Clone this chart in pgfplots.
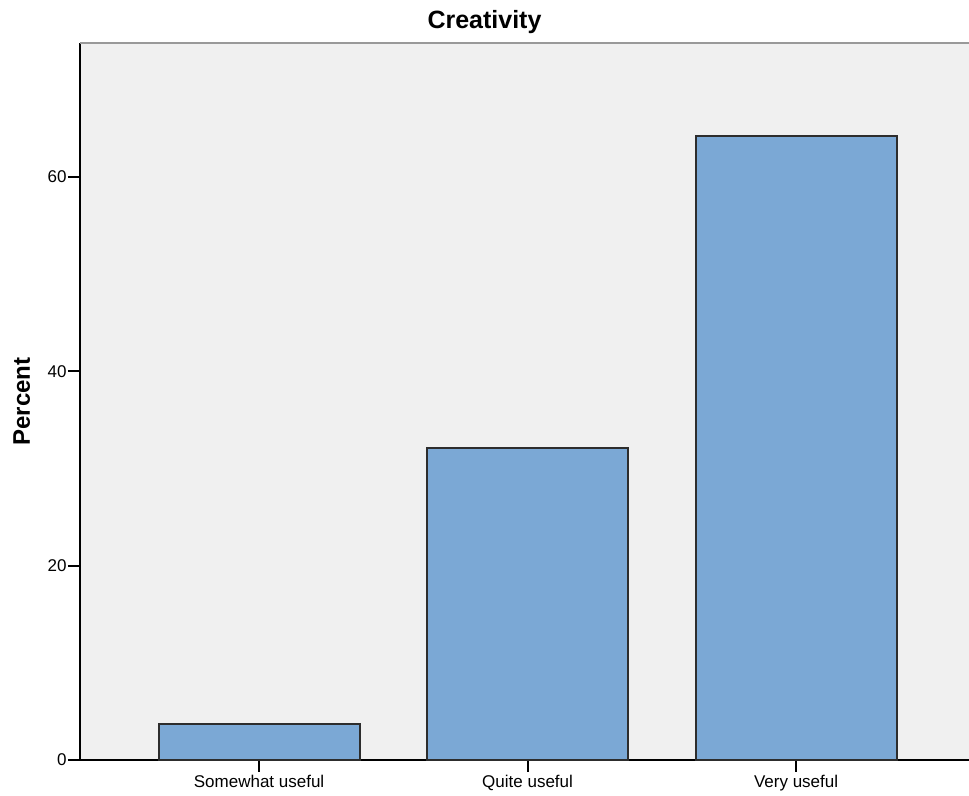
\documentclass[border=0pt]{standalone}
\usepackage{fontspec}
\setmainfont{Liberation Sans}
\usepackage{pgfplots}
\pgfplotsset{compat=1.18}
\definecolor{barcol}{RGB}{123,168,213}
\definecolor{bgcol}{RGB}{240,240,240}
\definecolor{edgecol}{RGB}{45,45,45}
\begin{document}
\begin{tikzpicture}
\begin{axis}[
  name=ax,
  scale only axis,
  width=444.5pt, height=358.5pt,
  xmin=-0.667, xmax=2.644,
  ymin=0, ymax=73.8,
  axis lines*=left,
  axis line style={line width=1pt, black},
  axis background/.style={fill=bgcol},
  xtick={0,1,2},
  xticklabels={Somewhat useful, Quite useful, Very useful},
  ytick={0,20,40,60},
  tick align=outside,
  major tick length=6pt,
  tick style={line width=1pt, black},
  /pgf/number format/assume math mode=true,
  tick label style={font=\fontsize{8.5}{10}\selectfont},
  yticklabel style={inner xsep=0.5pt},
  xticklabel style={inner ysep=1.5pt},
  ylabel={\bfseries Percent},
  every axis y label/.style={at={(axis description cs:-0.0656,0.5)}, rotate=90, anchor=center, font=\fontsize{12}{14}\selectfont},
  clip=false,
]
\addplot[ybar, bar width=100.5pt, fill=barcol, draw=edgecol, line width=1pt] coordinates {(0,3.7) (1,32.1) (2,64.2)};
\end{axis}
\draw[line width=1.2pt, gray!80] (ax.north west) -- (ax.north east);
\node[font=\bfseries\fontsize{12.5}{14}\selectfont] at ([xshift=202.25pt, yshift=10.5pt]ax.north west) {Creativity};
\pgfresetboundingbox
\path[use as bounding box] ([xshift=-40pt, yshift=-18pt]ax.south west) rectangle ([yshift=21.5pt]ax.north east);
\end{tikzpicture}
\end{document}
